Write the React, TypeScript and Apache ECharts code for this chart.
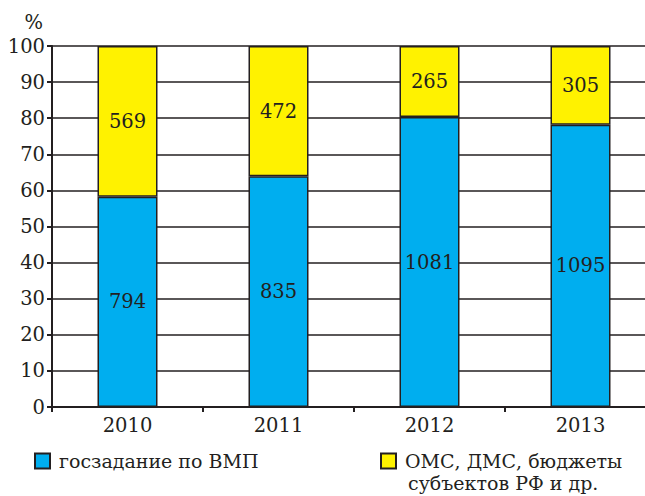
import React, { useEffect, useRef } from "react";
import * as echarts from "echarts";

const years = ["2010", "2011", "2012", "2013"];
const gosZadanie = [794, 835, 1081, 1095];
const omsDms = [569, 472, 265, 305];
const yTicks = { min: 0, max: 100, interval: 10 };

const seriesNames = ["госзадание по ВМП", "ОМС, ДМС, бюджеты субъектов РФ и др."];
const ink = "#231f20";
const font = "DejaVu Serif";
const fs = 19;

export default function App() {
  const ref = useRef<HTMLDivElement>(null);
  useEffect(() => {
    if (!ref.current) return;
    const chart = echarts.init(ref.current, null, { renderer: "svg" });
    const totals = years.map((_, i) => gosZadanie[i] + omsDms[i]);
    const pct = (arr: number[]) =>
      arr.map((v, i) => ({ value: (v / totals[i]) * 100, raw: v }));
    const labelCfg = {
      show: true,
      position: "inside",
      fontFamily: font,
      fontSize: 19.5,
      color: ink,
      formatter: (p: any) => String(p.data.raw),
    };
    const legendText = { fontFamily: font, fontSize: fs, color: ink, lineHeight: 20, padding: [0, 0, 0, 4] };
    chart.setOption({
      animation: false,
      textStyle: { fontFamily: font, color: ink },
      grid: { left: 52, right: 0, top: 46, bottom: 89, containLabel: false },
      xAxis: {
        type: "category",
        data: years,
        boundaryGap: true,
        axisLine: { lineStyle: { color: ink, width: 2 } },
        axisTick: { show: true, length: 5, lineStyle: { color: ink, width: 2 } },
        axisLabel: { fontFamily: font, fontSize: 19.5, color: ink, margin: 8 },
      },
      yAxis: {
        type: "value",
        min: yTicks.min,
        max: yTicks.max,
        interval: yTicks.interval,
        name: "%",
        nameLocation: "end",
        nameGap: 14,
        nameTextStyle: { fontFamily: font, fontSize: 19.5, color: ink, align: "right", padding: [0, 9, 0, 0] },
        axisLine: { show: true, lineStyle: { color: ink, width: 2 } },
        axisTick: { show: true, length: 5, lineStyle: { color: ink, width: 2 } },
        axisLabel: { fontFamily: font, fontSize: 19.5, color: ink, margin: 7 },
        splitLine: { show: true, lineStyle: { color: ink, width: 1.5 } },
      },
      legend: [
        {
          data: [seriesNames[0]],
          left: 29,
          top: 446,
          icon: "rect",
          itemWidth: 15,
          itemHeight: 15,
          itemGap: 10,
          textStyle: legendText,
        },
        {
          data: [seriesNames[1]],
          left: 375,
          top: 446,
          icon: "rect",
          itemWidth: 15,
          itemHeight: 15,
          itemGap: 10,
          formatter: () => "ОМС, ДМС, бюджеты",
          textStyle: legendText,
        },
      ],
      graphic: [
        {
          type: "text",
          left: 408,
          top: 473,
          style: { text: "субъектов РФ и др.", fontFamily: font, fontSize: fs, fill: ink },
        },
      ],
      series: [
        {
          name: seriesNames[0],
          type: "bar",
          stack: "total",
          barWidth: 60,
          data: pct(gosZadanie),
          itemStyle: { color: "#00aeef", borderColor: ink, borderWidth: 1.5 },
          label: labelCfg,
        },
        {
          name: seriesNames[1],
          type: "bar",
          stack: "total",
          barWidth: 60,
          data: pct(omsDms),
          itemStyle: { color: "#fff200", borderColor: ink, borderWidth: 1.5 },
          label: labelCfg,
        },
      ],
    });
    return () => chart.dispose();
  }, []);
  return (
    <div style={{ width: 645, height: 496, position: "absolute", left: 0, top: 0, overflow: "hidden" }}>
      <div ref={ref} style={{ width: 656, height: 496 }} />
    </div>
  );
}
